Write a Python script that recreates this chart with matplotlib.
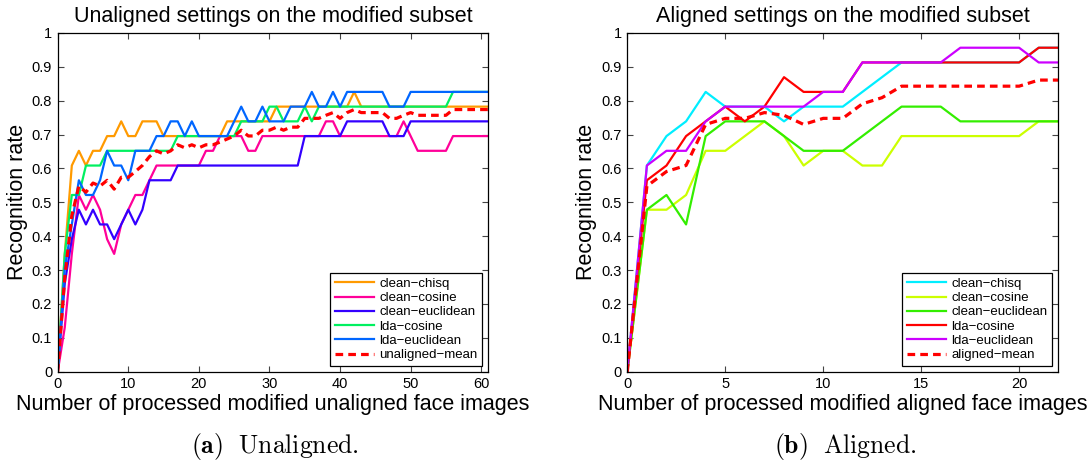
import matplotlib
matplotlib.use("Agg")
import matplotlib.pyplot as plt

plt.rcParams["font.family"] = ["Liberation Sans", "DejaVu Sans"]
plt.rcParams["mathtext.fontset"] = "cm"

# number of probe faces in the modified subset
N_FACES = 23

# ------------------------------------------------------------
#  unaligned run (correct matches out of N_FACES per step)
# ------------------------------------------------------------
x_unaligned = list(range(62))
un_clean_chisq = [0, 8, 14, 15, 14, 15, 15, 16, 16, 17, 16,
                  16, 17, 17, 17, 16, 16, 16, 16, 16, 16,
                  16, 16, 16, 17, 17, 17, 17, 17, 17, 17,
                  18, 18, 18, 18, 18, 18, 18, 18, 18, 18,
                  18, 19, 18, 18, 18, 18, 18, 18, 18, 18,
                  18, 18, 18, 18, 18, 18, 18, 18, 18, 18, 18]
un_clean_cosine = [0, 3, 8, 12, 11, 12, 11, 9, 8, 10, 11,
                   12, 12, 13, 14, 14, 14, 14, 14, 14, 14,
                   15, 15, 16, 16, 16, 16, 15, 15, 16, 16,
                   16, 16, 16, 16, 16, 16, 16, 17, 17, 16,
                   16, 16, 16, 16, 16, 16, 16, 16, 17, 16,
                   15, 15, 15, 15, 15, 16, 16, 16, 16, 16, 16]
un_clean_euclidean = [0, 6, 9, 11, 10, 11, 10, 10, 9, 10, 11,
                      10, 11, 13, 13, 13, 13, 14, 14, 14, 14,
                      14, 14, 14, 14, 14, 14, 14, 14, 14, 14,
                      14, 14, 14, 14, 16, 16, 16, 16, 16, 16,
                      17, 17, 17, 17, 17, 17, 16, 16, 16, 17,
                      17, 17, 17, 17, 17, 17, 17, 17, 17, 17, 17]
un_lda_cosine = [0, 8, 12, 12, 14, 14, 14, 15, 15, 15, 15,
                 15, 15, 15, 15, 15, 15, 16, 16, 16, 16,
                 16, 16, 16, 16, 16, 17, 17, 17, 17, 18,
                 18, 17, 17, 17, 18, 17, 18, 18, 18, 18,
                 18, 18, 18, 18, 18, 18, 18, 18, 18, 18,
                 18, 18, 18, 18, 18, 19, 19, 19, 19, 19, 19]
un_lda_euclidean = [0, 7, 10, 13, 12, 12, 13, 15, 14, 14, 13,
                    15, 15, 15, 16, 16, 17, 17, 16, 17, 16,
                    16, 16, 16, 16, 17, 18, 17, 17, 18, 17,
                    17, 17, 18, 18, 18, 19, 18, 18, 19, 18,
                    19, 19, 19, 19, 19, 19, 18, 18, 18, 19,
                    19, 19, 19, 19, 19, 19, 19, 19, 19, 19, 19]
un_mean = [0.000, 0.278, 0.461, 0.548, 0.530, 0.557, 0.548, 0.565, 0.539, 0.574, 0.574,
           0.591, 0.609, 0.635, 0.652, 0.643, 0.652, 0.670, 0.661, 0.670, 0.661,
           0.670, 0.670, 0.678, 0.687, 0.696, 0.713, 0.696, 0.696, 0.713, 0.713,
           0.722, 0.713, 0.722, 0.722, 0.748, 0.748, 0.748, 0.757, 0.765, 0.748,
           0.765, 0.774, 0.765, 0.765, 0.765, 0.765, 0.748, 0.748, 0.757, 0.765,
           0.757, 0.757, 0.757, 0.757, 0.757, 0.774, 0.774, 0.774, 0.774, 0.774, 0.774]

# ------------------------------------------------------------
#  aligned run
# ------------------------------------------------------------
x_aligned = list(range(23))
al_clean_chisq = [0, 14, 16, 17, 19, 18, 18, 18, 17, 18, 18, 18,
                  19, 20, 21, 21, 21, 21, 21, 21, 21, 22, 22]
al_clean_cosine = [0, 11, 11, 12, 15, 15, 16, 17, 16, 14, 15, 15,
                   14, 14, 16, 16, 16, 16, 16, 16, 16, 17, 17]
al_clean_euclidean = [0, 11, 12, 10, 16, 17, 17, 17, 16, 15, 15, 15,
                      16, 17, 18, 18, 18, 17, 17, 17, 17, 17, 17]
al_lda_cosine = [0, 13, 14, 16, 17, 18, 17, 18, 20, 19, 19, 19,
                 21, 21, 21, 21, 21, 21, 21, 21, 21, 22, 22]
al_lda_euclidean = [0, 14, 15, 15, 17, 18, 18, 18, 18, 18, 19, 19,
                    21, 21, 21, 21, 21, 22, 22, 22, 22, 21, 21]
al_mean = [0.000, 0.548, 0.591, 0.609, 0.730, 0.748, 0.748, 0.765, 0.757, 0.730, 0.748, 0.748,
           0.791, 0.809, 0.843, 0.843, 0.843, 0.843, 0.843, 0.843, 0.843, 0.861, 0.861]

labels = ["clean\u2212chisq", "clean\u2212cosine", "clean\u2212euclidean",
          "lda\u2212cosine", "lda\u2212euclidean"]
un_colors = ["#ff9a00", "#ff0099", "#3300ff", "#00f060", "#0066ff"]
al_colors = ["#00eeff", "#ccff00", "#33ee00", "#ff0000", "#cc00ff"]


def draw_panel(ax, x, series, colors, mean, mean_label, xmax, xticks, title, xlabel):
    for ys, c, lab in zip(series, colors, labels):
        ax.plot(x, [v / N_FACES for v in ys], color=c, linewidth=1.6, label=lab)
    ax.plot(x, mean, color="#ff0000", linewidth=2.3, dashes=(2.4, 1.6), label=mean_label)

    ax.set_xlim(0, xmax)
    ax.set_ylim(0, 1)
    ax.set_xticks(xticks)
    ax.set_yticks([i / 10 for i in range(11)])
    ax.set_yticklabels(["0"] + ["0.%d" % i for i in range(1, 10)] + ["1"])
    ax.tick_params(direction="in", length=4, width=0.8, top=True, right=True,
                   labelsize=10.5, color="#444444", pad=4)
    for s in ax.spines.values():
        s.set_linewidth(0.9)

    ax.set_title(title, fontsize=15.5, pad=8)
    ax.set_xlabel(xlabel, fontsize=15.5, labelpad=2)
    ax.set_ylabel("Recognition rate", fontsize=15.5, labelpad=3)

    leg = ax.legend(loc="lower right", fontsize=9.5, fancybox=False, framealpha=1,
                    edgecolor="black", handlelength=3.0, handletextpad=0.4,
                    labelspacing=0.15, borderaxespad=0.45, borderpad=0.35)
    leg.get_frame().set_linewidth(0.9)


fig = plt.figure(figsize=(10.91, 4.70), dpi=100)
ax_un = fig.add_axes([57.7 / 1091, 98.3 / 470, 430.6 / 1091, 338.7 / 470])
ax_al = fig.add_axes([627.3 / 1091, 98.3 / 470, 431.0 / 1091, 338.7 / 470])

draw_panel(ax_un, x_unaligned,
           [un_clean_chisq, un_clean_cosine, un_clean_euclidean, un_lda_cosine, un_lda_euclidean],
           un_colors, un_mean, "unaligned\u2212mean", 61, range(0, 61, 10),
           "Unaligned settings on the modified subset",
           "Number of processed modified unaligned face images")
draw_panel(ax_al, x_aligned,
           [al_clean_chisq, al_clean_cosine, al_clean_euclidean, al_lda_cosine, al_lda_euclidean],
           al_colors, al_mean, "aligned\u2212mean", 22, range(0, 21, 5),
           "Aligned settings on the modified subset",
           "Number of processed modified aligned face images")

# sub-figure captions
fig.text(275 / 1091, 1 - 446 / 470, r"$\mathbf{(a)}\ \ \mathrm{Unaligned.}$",
         ha="center", va="center", fontsize=18.5)
fig.text(845 / 1091, 1 - 446 / 470, r"$\mathbf{(b)}\ \ \mathrm{Aligned.}$",
         ha="center", va="center", fontsize=18.5)

fig.savefig("out.png", dpi=100)
